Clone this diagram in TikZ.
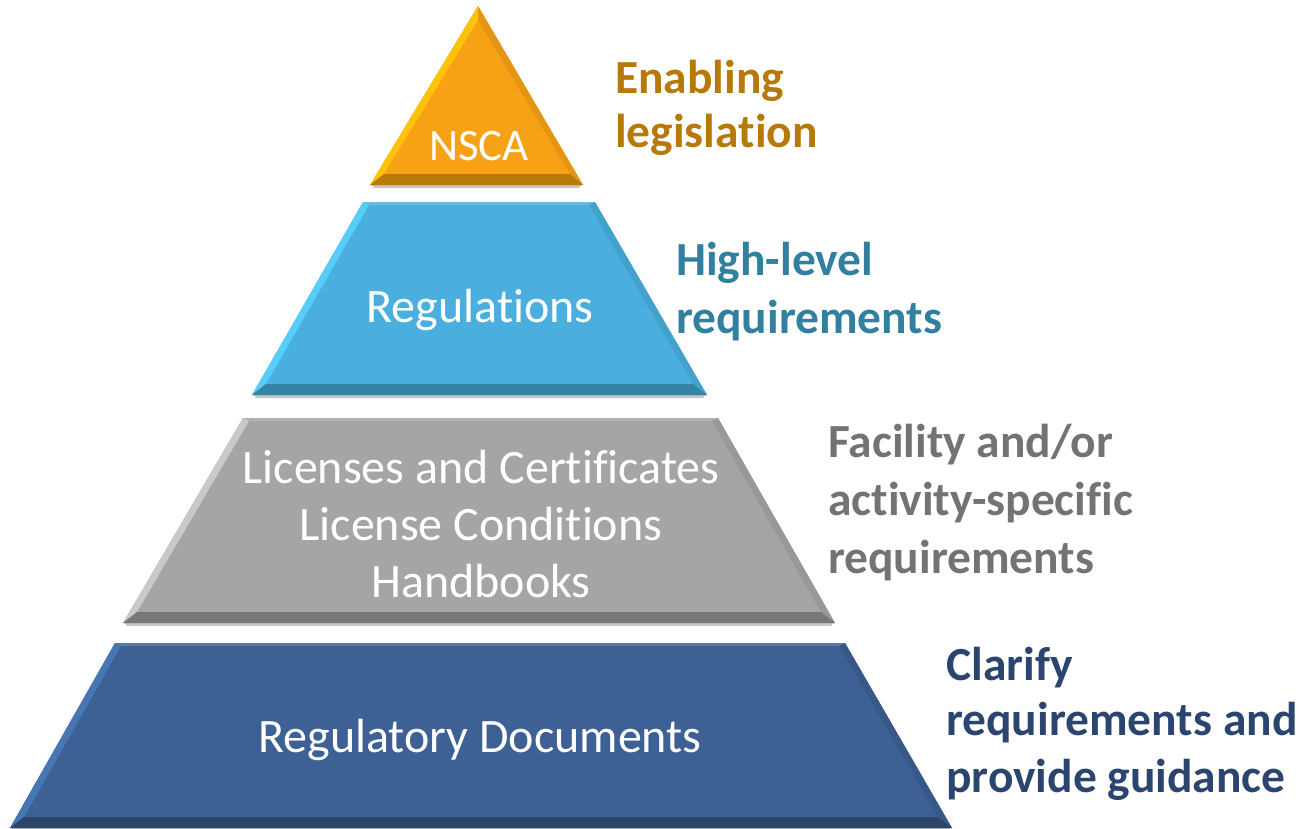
\documentclass[tikz,border=0pt]{standalone}
\usepackage{fontspec}
\setmainfont{Carlito}[Ligatures=NoCommon]
\definecolor{orM}{HTML}{F7A215}
\definecolor{orL}{HTML}{FFC20A}
\definecolor{orD}{HTML}{B97909}
\definecolor{blM}{HTML}{4AAFDE}
\definecolor{blL}{HTML}{56CDFB}
\definecolor{blD}{HTML}{3682A4}
\definecolor{grM}{HTML}{A5A5A5}
\definecolor{grL}{HTML}{C9C9C9}
\definecolor{grD}{HTML}{777777}
\definecolor{nvM}{HTML}{3D6194}
\definecolor{nvL}{HTML}{4677B4}
\definecolor{nvD}{HTML}{2C4669}
\definecolor{lbOr}{HTML}{B8790B}
\definecolor{lbBl}{HTML}{31809F}
\definecolor{lbGr}{HTML}{737373}
\definecolor{lbNv}{HTML}{2B4570}
% #1 TLx #2 TRx #3 BRx #4 BLx #5 topy #6 boty #7 main #8 light #9 dark
\newcommand{\pyrtier}[9]{%
  \fill[gray!45] (#4+2,#6) -- (#3-2,#6) -- (#3-4,#6+3) -- (#4+4,#6+3) -- cycle;
  \fill[#7] (#1,#5) -- (#2,#5) -- (#3,#6) -- (#4,#6) -- cycle;
  \fill[#7!85!white] (#1,#5) -- (#2,#5) -- (#2-6,#5+3) -- (#1+6,#5+3) -- cycle;
  \fill[#7!92!black] (#2,#5) -- (#3,#6) -- (#3-14,#6-11) -- (#2-6,#5+3) -- cycle;
  \fill[#8] (#1,#5) -- (#1+6,#5+3) -- (#4+14,#6-11) -- (#4,#6) -- cycle;
  \fill[#9] (#4,#6) -- (#4+14,#6-11) -- (#3-14,#6-11) -- (#3,#6) -- cycle;
}
\tikzset{
  tiertext/.style={anchor=base, inner sep=0pt, text=white, font=\fontsize{48}{56}\selectfont},
  sidelabel/.style={anchor=base west, inner sep=0pt, font=\fontsize{47.5}{56}\selectfont\bfseries},
}
\begin{document}
\begin{tikzpicture}[x=1pt,y=-1pt]
\useasboundingbox (0,0) rectangle (1301,828);
% top triangle
\fill[gray!45] (372,185) -- (581,185) -- (579,188) -- (374,188) -- cycle;
\fill[orM] (478,6) -- (583,185) -- (370,185) -- cycle;
\fill[orM!92!black] (478,6) -- (583,185) -- (570,174) -- (478,20) -- cycle;
\fill[orL] (478,6) -- (478,20) -- (384,174) -- (370,185) -- cycle;
\fill[orD] (370,185) -- (384,174) -- (570,174) -- (583,185) -- cycle;
% tiers
\pyrtier{363}{595}{707}{252}{202}{395}{blM}{blL}{blD}
\pyrtier{243}{718}{835}{123}{418}{623}{grM}{grL}{grD}
\pyrtier{115}{845}{952}{10}{643}{828}{nvM}{nvL}{nvD}
% tier texts
\node[tiertext, font=\fontsize{45}{56}\selectfont] (nsca) at (479,160) {NSCA};
\node[tiertext] (regs) at (480,322) {Regulations};
\node[tiertext] (lic1) at (481,483) {Licenses and Certificates};
\node[tiertext] (lic2) at (481,540) {License Conditions};
\node[tiertext] (lic3) at (481,597) {Handbooks};
\node[tiertext] (rdoc) at (480,752) {Regulatory Documents};
% side labels
\node[sidelabel, text=lbOr] (en1) at (615,93) {Enabling};
\node[sidelabel, text=lbOr] (en2) at (615,147) {legislation};
\node[sidelabel, text=lbBl] (hl1) at (676,275) {High-level};
\node[sidelabel, text=lbBl] (hl2) at (676,333) {requirements};
\node[sidelabel, text=lbGr] (fa1) at (828,457) {Facility and/or};
\node[sidelabel, text=lbGr] (fa2) at (828,515) {activity-specific};
\node[sidelabel, text=lbGr] (fa3) at (828,573) {requirements};
\node[sidelabel, text=lbNv] (cl1) at (946,680) {Clarify};
\node[sidelabel, text=lbNv] (cl2) at (946,735) {requirements and};
\node[sidelabel, text=lbNv] (cl3) at (946,792) {provide guidance};
\end{tikzpicture}
\end{document}
